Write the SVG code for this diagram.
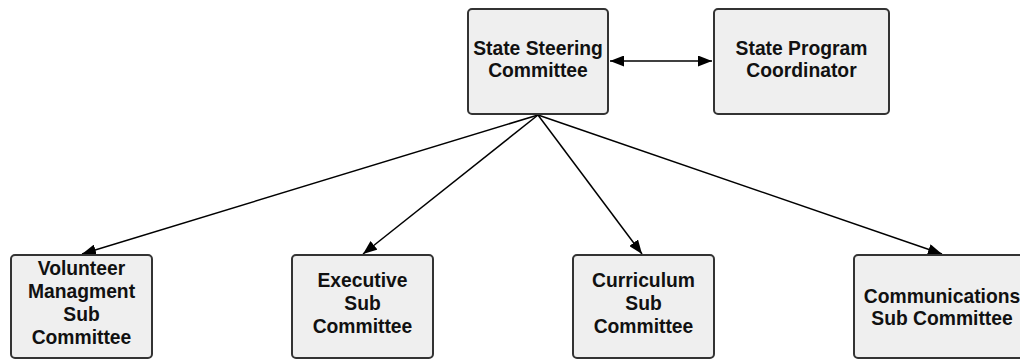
<svg xmlns="http://www.w3.org/2000/svg" width="1020" height="360" viewBox="0 0 1020 360">
<style>
.box{fill:#efefef;stroke:#333;stroke-width:2}
.t{font-family:"Liberation Sans",Arial,sans-serif;font-weight:bold;font-size:19.3px;fill:#111;text-anchor:middle}
.c{stroke:#000;stroke-width:1.5;fill:none}
</style>
<defs>
<marker id="ah" viewBox="0 0 14 11" refX="14" refY="5.5" markerWidth="14" markerHeight="11" markerUnits="userSpaceOnUse" orient="auto-start-reverse">
<path d="M0,0 L14,5.5 L0,11 z" fill="#000"/>
</marker>
</defs>
<g id="connectors">
<line class="c" x1="610" y1="61" x2="712" y2="61" marker-start="url(#ah)" marker-end="url(#ah)"/>
<line class="c" x1="538" y1="115" x2="82" y2="254" marker-end="url(#ah)"/>
<line class="c" x1="538" y1="115" x2="363" y2="254" marker-end="url(#ah)"/>
<line class="c" x1="538" y1="115" x2="642" y2="254" marker-end="url(#ah)"/>
<line class="c" x1="538" y1="115" x2="942" y2="254" marker-end="url(#ah)"/>
</g>
<g id="steering">
<rect class="box" x="468" y="9" width="140" height="105" rx="4"/>
<text class="t" x="538" y="55">State Steering</text>
<text class="t" x="538" y="77">Committee</text>
</g>
<g id="coordinator">
<rect class="box" x="714" y="9" width="175" height="105" rx="4"/>
<text class="t" x="801.5" y="55">State Program</text>
<text class="t" x="801.5" y="77">Coordinator</text>
</g>
<g id="volunteer">
<rect class="box" x="11" y="255" width="141" height="103" rx="4"/>
<text class="t" x="81.5" y="275">Volunteer</text>
<text class="t" x="81.5" y="298">Managment</text>
<text class="t" x="81.5" y="321">Sub</text>
<text class="t" x="81.5" y="344">Committee</text>
</g>
<g id="executive">
<rect class="box" x="292" y="255" width="141" height="103" rx="4"/>
<text class="t" x="362.5" y="287">Executive</text>
<text class="t" x="362.5" y="310">Sub</text>
<text class="t" x="362.5" y="333">Committee</text>
</g>
<g id="curriculum">
<rect class="box" x="573" y="255" width="141" height="103" rx="4"/>
<text class="t" x="643.5" y="287">Curriculum</text>
<text class="t" x="643.5" y="310">Sub</text>
<text class="t" x="643.5" y="333">Committee</text>
</g>
<g id="communications">
<rect class="box" x="854" y="255" width="176" height="103" rx="4"/>
<text class="t" x="942" y="303">Communications</text>
<text class="t" x="942" y="325">Sub Committee</text>
</g>
</svg>
